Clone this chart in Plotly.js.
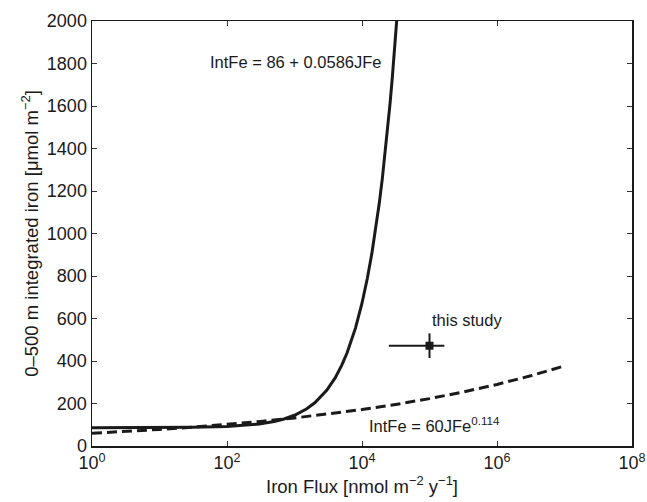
<!DOCTYPE html>
<html>
<head>
<meta charset="utf-8">
<script src="https://cdn.plot.ly/plotly-3.0.1.min.js"></script>
<style>html,body{margin:0;padding:0;background:#fff;}#chart{width:647px;height:502px;}</style>
</head>
<body>
<div id="chart"></div>
<script>
// Solid curve: IntFe = 86 + 0.0586 JFe
const linearFlux = [1, 3, 10, 30, 100, 200, 300, 500, 700, 1000, 1500, 2000, 3000, 4000, 5000, 6000, 7000, 8000, 10000, 12000, 14000, 16000, 18000, 20000, 22000, 24000, 26000, 28000, 30000, 32000, 33000];
const linearIntFe = [86.1, 86.2, 86.6, 87.8, 91.9, 97.7, 103.6, 115.3, 127.0, 144.6, 173.9, 203.2, 261.8, 320.4, 379.0, 437.6, 496.2, 554.8, 672, 789.2, 906.4, 1023.6, 1140.8, 1258, 1375.2, 1492.4, 1609.6, 1726.8, 1844, 1961.2, 2019.8];

// Dashed curve: IntFe = 60 JFe^0.114
const powerFlux = [1, 3.16, 10, 31.6, 100, 316, 1000, 3162, 10000, 31623, 100000, 316228, 1000000, 3162278, 10000000];
const powerIntFe = [60, 68.4, 78.0, 88.9, 101.4, 115.6, 131.9, 150.4, 171.5, 195.5, 222.9, 254.1, 289.8, 330.4, 376.8];

// This study
const studyFlux = [100000];
const studyIntFe = [472];
const studyFluxPlus = [66000];
const studyFluxMinus = [75000];
const studyIntFeErr = [58];

const xTickVals = [1, 100, 10000, 1000000, 100000000];
const xTickText = ['10<sup>0</sup>', '10<sup>2</sup>', '10<sup>4</sup>', '10<sup>6</sup>', '10<sup>8</sup>'];

const font = 'Liberation Sans, Arial, Helvetica, sans-serif';

const traces = [
  {x: linearFlux, y: linearIntFe, mode: 'lines', line: {color: '#1a1a1a', width: 3}, hoverinfo: 'skip'},
  {x: powerFlux, y: powerIntFe, mode: 'lines', line: {color: '#1a1a1a', width: 3, dash: '10px,5px'}, hoverinfo: 'skip'},
  {x: studyFlux, y: studyIntFe, mode: 'markers', marker: {symbol: 'square', size: 8, color: '#1a1a1a'},
   error_x: {type: 'data', symmetric: false, array: studyFluxPlus, arrayminus: studyFluxMinus, width: 0, thickness: 2, color: '#1a1a1a'},
   error_y: {type: 'data', array: studyIntFeErr, width: 0, thickness: 2, color: '#1a1a1a'}}
];

const layout = {
  width: 647, height: 502,
  margin: {l: 92, r: 15, t: 21, b: 56},
  paper_bgcolor: '#fff', plot_bgcolor: '#fff',
  showlegend: false,
  font: {family: font, size: 18, color: '#1a1a1a'},
  xaxis: {
    type: 'log', range: [0, 8],
    tickvals: xTickVals, ticktext: xTickText,
    ticks: 'inside', ticklen: 5, tickcolor: '#333', mirror: 'ticks',
    showline: true, linecolor: '#1a1a1a', linewidth: 1.5,
    showgrid: false, zeroline: false,
    tickfont: {size: 18},
    title: {text: 'Iron Flux [nmol m<sup>−2</sup> y<sup>−1</sup>]', font: {size: 18.5}, standoff: 2}
  },
  yaxis: {
    range: [0, 2000], dtick: 200,
    ticks: 'inside', ticklen: 5, tickcolor: '#333', mirror: 'ticks',
    showline: true, linecolor: '#1a1a1a', linewidth: 1.5,
    showgrid: false, zeroline: false,
    tickfont: {size: 18},
    title: {text: '0–500 m integrated iron [μmol m<sup>−2</sup>]', font: {size: 18.5}, standoff: 3}
  },
  annotations: [
    {xref: 'paper', yref: 'paper', x: 0.215, y: 0.903, xanchor: 'left', yanchor: 'middle', showarrow: false,
     text: 'IntFe = 86 + 0.0586JFe', font: {size: 16.5}},
    {xref: 'paper', yref: 'paper', x: 0.51, y: 0.05, xanchor: 'left', yanchor: 'middle', showarrow: false,
     text: 'IntFe = 60JFe<sup>0.114</sup>', font: {size: 16.5}},
    {xref: 'paper', yref: 'paper', x: 0.626, y: 0.296, xanchor: 'left', yanchor: 'middle', showarrow: false,
     text: 'this study', font: {size: 16.5}}
  ]
};

Plotly.newPlot('chart', traces, layout, {staticPlot: true});
</script>
</body>
</html>
